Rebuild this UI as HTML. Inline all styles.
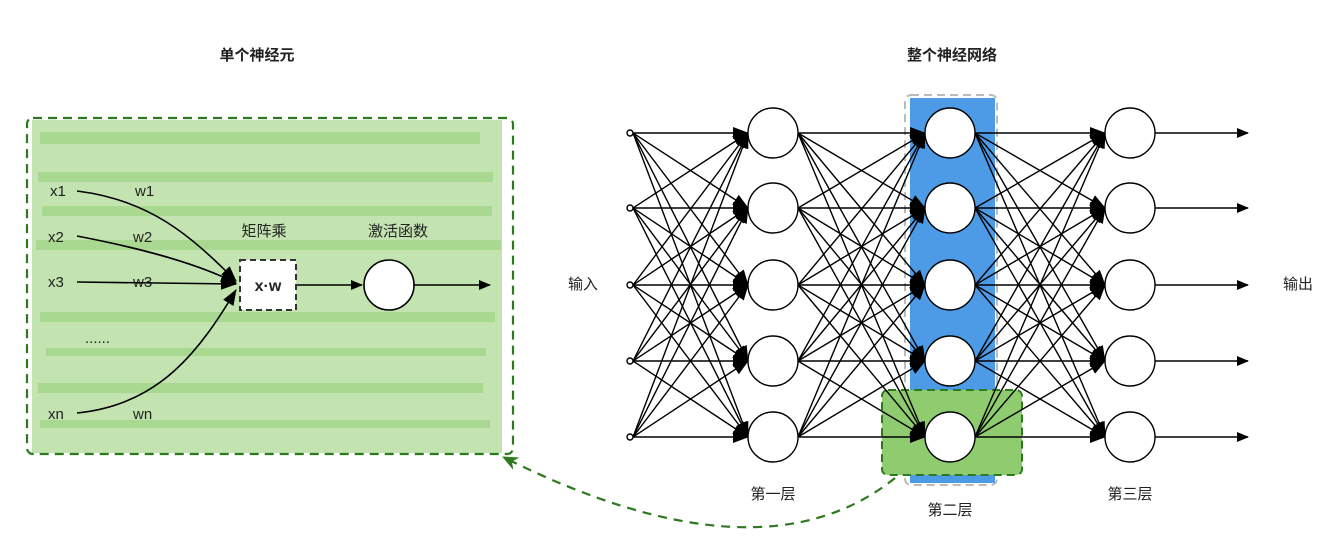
<!DOCTYPE html>
<html><head><meta charset="utf-8"><style>
html,body{margin:0;padding:0;background:#fff;width:1343px;height:545px;overflow:hidden}
svg{display:block}
text{font-family:"Liberation Sans","Noto Sans CJK SC",sans-serif;fill:#222}
</style></head><body>
<svg id="s" width="1343" height="545" viewBox="0 0 1343 545" xmlns="http://www.w3.org/2000/svg">
<defs>
<marker id="a" markerWidth="12" markerHeight="10" refX="11" refY="5" orient="auto" markerUnits="userSpaceOnUse"><path d="M0,0 L12,5 L0,10 Z" fill="#000"/></marker>
<marker id="b" markerWidth="16" markerHeight="12" refX="15" refY="6" orient="auto" markerUnits="userSpaceOnUse"><path d="M0,0 L16,6 L0,12 Z" fill="#000"/></marker>
<marker id="g" markerWidth="16" markerHeight="14" refX="15" refY="7" orient="auto" markerUnits="userSpaceOnUse"><path d="M0,0 L16,7 L0,14 L5,7 Z" fill="#2d7a1e"/></marker>
</defs>
<text x="257" y="60" font-size="15" font-weight="bold" text-anchor="middle">单个神经元</text>
<text x="952" y="60" font-size="15" font-weight="bold" text-anchor="middle">整个神经网络</text>
<rect x="32" y="120" width="470" height="333" fill="#c3e3b0"/>
<g fill="#a9d891">
<rect x="40" y="132" width="440" height="12"/><rect x="38" y="172" width="455" height="10"/>
<rect x="42" y="206" width="450" height="10"/><rect x="36" y="240" width="465" height="10"/>
<rect x="40" y="312" width="455" height="10"/><rect x="46" y="348" width="440" height="8"/>
<rect x="38" y="383" width="445" height="10"/><rect x="40" y="420" width="450" height="8"/>
</g>
<rect x="27" y="118" width="486" height="336" rx="6" fill="none" stroke="#2d7a1e" stroke-width="2.2" stroke-dasharray="9,6"/>
<g font-size="15">
<text x="50" y="196">x1</text><text x="135" y="196">w1</text>
<text x="48" y="242">x2</text><text x="133" y="242">w2</text>
<text x="48" y="287">x3</text><text x="133" y="287">w3</text>
<text x="85" y="343">......</text>
<text x="48" y="419">xn</text><text x="133" y="419">wn</text>
<text x="264" y="236" text-anchor="middle">矩阵乘</text>
<text x="398" y="236" text-anchor="middle">激活函数</text>
</g>
<g fill="none" stroke="#000" stroke-width="1.6">
<path d="M77,191 C150,200 190,235 236,281" marker-end="url(#b)"/>
<path d="M77,236 C150,250 200,265 236,283" marker-end="url(#b)"/>
<path d="M77,282 L236,284" marker-end="url(#b)"/>
<path d="M77,413 C160,405 200,350 236,290" marker-end="url(#b)"/>
<path d="M297,285 L362,285" marker-end="url(#a)"/>
<path d="M414,285 L490,285" marker-end="url(#a)"/>
</g>
<rect x="240" y="260" width="56" height="50" fill="#fff" stroke="#333" stroke-width="2" stroke-dasharray="6,4"/>
<text x="268" y="291" font-size="16" font-weight="bold" text-anchor="middle">x·w</text>
<circle cx="389" cy="285" r="25" fill="#fff" stroke="#000" stroke-width="1.6"/>
<rect x="905" y="95" width="92" height="390" rx="6" fill="#fff" stroke="#bbb" stroke-width="2" stroke-dasharray="8,5"/>
<rect x="910" y="98" width="85" height="385" fill="#4d9be6"/>
<rect x="882" y="390" width="140" height="85" rx="6" fill="#8fcc6f" stroke="#2d7a1e" stroke-width="2" stroke-dasharray="8,5"/>
<g id="net" fill="none" stroke="#000" stroke-width="1.4"></g>
<g font-size="15">
<text x="583" y="289" text-anchor="middle">输入</text>
<text x="1298" y="289" text-anchor="middle">输出</text>
<text x="773" y="499" text-anchor="middle">第一层</text>
<text x="950" y="515" text-anchor="middle">第二层</text>
<text x="1130" y="499" text-anchor="middle">第三层</text>
</g>
<path d="M895,478 Q761,586 503,457" fill="none" stroke="#2d7a1e" stroke-width="2.2" stroke-dasharray="9,7" marker-end="url(#g)"/>
</svg>
<script>
var ys=[133,208,285,361,437],g=document.getElementById('net'),h='';
function L(x1,y1,x2,y2,m){h+='<line x1="'+x1+'" y1="'+y1+'" x2="'+x2+'" y2="'+y2+'" marker-end="url(#'+m+')"/>';}
ys.forEach(function(a){ys.forEach(function(b){L(633,a,748,b,'b');L(798,a,925,b,'b');L(975,a,1105,b,'b');});L(1155,a,1248,a,'a');});
ys.forEach(function(a){h+='<circle cx="630" cy="'+a+'" r="3" fill="#fff"/>';[773,950,1130].forEach(function(x){h+='<circle cx="'+x+'" cy="'+a+'" r="25" fill="#fff"/>';});});
g.innerHTML=h;
</script>
</body></html>
